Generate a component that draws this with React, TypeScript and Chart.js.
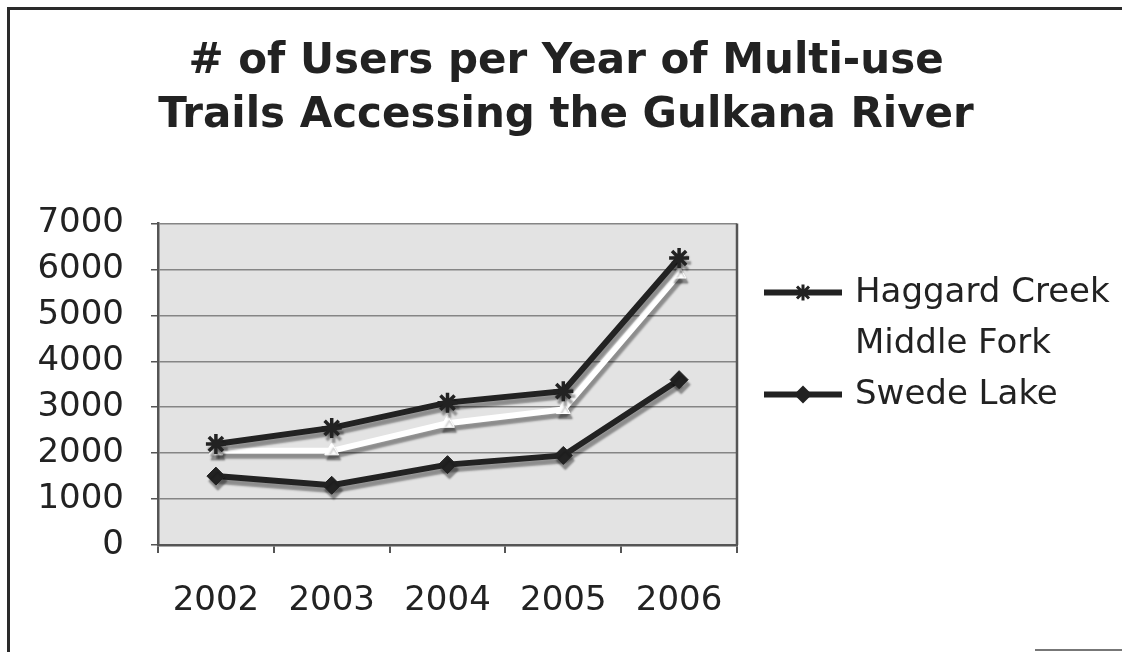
import React, { useEffect, useRef } from "react";
import { Chart, registerables } from "chart.js";

Chart.register(...registerables);

// Trail usage counts per year
const years = ["2002", "2003", "2004", "2005", "2006"];
const haggardCreek = [2200, 2550, 3100, 3350, 6250];
const middleFork = [2050, 2050, 2650, 2950, 5900];
const swedeLake = [1500, 1300, 1750, 1950, 3600];
const seriesNames = ["Haggard Creek", "Middle Fork", "Swede Lake"];
const titleLines = ["# of Users per Year of Multi-use", "Trails Accessing the Gulkana River"];
const yMin = 0;
const yMax = 7000;
const yStep = 1000;

const INK = "#222222";
const FONT = "'DejaVu Sans', Verdana, sans-serif";

// Gray plot background plus the right-hand frame line of the plot area
const plotBackground = {
  id: "plotBackground",
  beforeDraw(chart: any) {
    const { ctx, chartArea: a } = chart;
    ctx.save();
    ctx.fillStyle = "#e3e3e3";
    ctx.fillRect(a.left, a.top, a.right - a.left, a.bottom - a.top);
    ctx.restore();
  },
  beforeDatasetsDraw(chart: any) {
    const { ctx, chartArea: a } = chart;
    ctx.save();
    ctx.strokeStyle = "#555";
    ctx.lineWidth = 2.5;
    ctx.beginPath();
    ctx.moveTo(a.right, a.top);
    ctx.lineTo(a.right, a.bottom);
    ctx.stroke();
    ctx.restore();
  },
};

// Soft drop shadow under every series
const seriesShadow = {
  id: "seriesShadow",
  beforeDatasetDraw(chart: any) {
    const ctx = chart.ctx;
    ctx.save();
    ctx.shadowColor = "rgba(0,0,0,0.38)";
    ctx.shadowOffsetX = 2;
    ctx.shadowOffsetY = 5;
    ctx.shadowBlur = 2;
  },
  afterDatasetDraw(chart: any) {
    chart.ctx.restore();
  },
};

function drawStar(ctx: CanvasRenderingContext2D, x: number, y: number, r: number) {
  ctx.beginPath();
  ctx.moveTo(x - r * 0.75, y - r * 0.75);
  ctx.lineTo(x + r * 0.75, y + r * 0.75);
  ctx.moveTo(x + r * 0.75, y - r * 0.75);
  ctx.lineTo(x - r * 0.75, y + r * 0.75);
  ctx.moveTo(x, y - r);
  ctx.lineTo(x, y + r);
  ctx.stroke();
}

function drawDiamond(ctx: CanvasRenderingContext2D, x: number, y: number, r: number) {
  ctx.beginPath();
  ctx.moveTo(x, y - r);
  ctx.lineTo(x + r, y);
  ctx.lineTo(x, y + r);
  ctx.lineTo(x - r, y);
  ctx.closePath();
  ctx.fill();
}

// Legend to the right of the plot: line sample with marker, then the name
const sideLegend = {
  id: "sideLegend",
  afterDraw(chart: any) {
    const { ctx, chartArea: a } = chart;
    const x0 = a.right + 27;
    const x1 = a.right + 105;
    const xm = (x0 + x1) / 2;
    const xt = a.right + 118;
    const rowY = [a.top + 69, a.top + 120, a.top + 171];
    const colors = [INK, "#ffffff", INK];
    ctx.save();
    ctx.font = `34px ${FONT}`;
    ctx.textBaseline = "middle";
    ctx.textAlign = "left";
    seriesNames.forEach((name, i) => {
      const y = rowY[i];
      ctx.strokeStyle = colors[i];
      ctx.fillStyle = colors[i];
      ctx.lineWidth = 6;
      ctx.beginPath();
      ctx.moveTo(x0, y);
      ctx.lineTo(x1, y);
      ctx.stroke();
      if (i === 0) {
        ctx.lineWidth = 3;
        drawStar(ctx, xm, y, 8);
      } else if (i === 2) {
        drawDiamond(ctx, xm, y, 9);
      }
      ctx.fillStyle = INK;
      ctx.fillText(name, xt, y + 1);
    });
    ctx.restore();
  },
};

export default function App() {
  const canvasRef = useRef<HTMLCanvasElement | null>(null);

  useEffect(() => {
    if (!canvasRef.current) return;
    const chart = new Chart(canvasRef.current, {
      type: "line",
      data: {
        labels: years,
        datasets: [
          {
            label: seriesNames[0],
            data: haggardCreek,
            borderColor: INK,
            backgroundColor: INK,
            borderWidth: 6,
            pointStyle: "star",
            pointRadius: 10,
            pointBorderWidth: 3.5,
            pointBorderColor: INK,
            tension: 0,
          },
          {
            label: seriesNames[1],
            data: middleFork,
            borderColor: "#ffffff",
            backgroundColor: "#ffffff",
            borderWidth: 6,
            pointStyle: "triangle",
            pointRadius: 8,
            pointBorderWidth: 1,
            pointBorderColor: "#ffffff",
            tension: 0,
          },
          {
            label: seriesNames[2],
            data: swedeLake,
            borderColor: INK,
            backgroundColor: INK,
            borderWidth: 6,
            pointStyle: "rectRot",
            pointRadius: 9,
            pointBorderWidth: 1,
            pointBorderColor: INK,
            tension: 0,
          },
        ],
      },
      options: {
        animation: false,
        responsive: true,
        maintainAspectRatio: false,
        layout: { padding: { left: 10, right: 0, top: 0, bottom: 0 } },
        plugins: {
          legend: { display: false },
          tooltip: { enabled: false },
          title: {
            display: true,
            text: titleLines,
            color: INK,
            font: { family: FONT, size: 42, weight: "bold", lineHeight: 1.28 },
            padding: { top: 35, bottom: 81 },
          },
        },
        scales: {
          x: {
            type: "category",
            offset: true,
            grid: {
              offset: true,
              drawOnChartArea: false,
              drawTicks: true,
              tickLength: 8,
              tickColor: "#555",
              lineWidth: 2,
            },
            border: { display: true, color: "#555", width: 2.5 },
            ticks: {
              color: INK,
              font: { family: FONT, size: 34 },
              padding: 28,
              maxRotation: 0,
              autoSkip: false,
            },
            afterFit(scale: any) {
              scale.height = 107;
            },
          },
          y: {
            min: yMin,
            max: yMax,
            grid: {
              color: "#858585",
              lineWidth: 1.5,
              drawTicks: true,
              tickLength: 7,
              tickColor: "#555",
            },
            border: { display: true, color: "#555", width: 2.5 },
            ticks: {
              stepSize: yStep,
              color: INK,
              font: { family: FONT, size: 34 },
              padding: 27,
              callback: (v: any) => String(v),
            },
            afterFit(scale: any) {
              scale.width = 148;
            },
          },
          // Blank right-hand axis that keeps room for the legend column
          legendSpace: {
            type: "linear",
            position: "right",
            min: yMin,
            max: yMax,
            grid: { display: false, drawOnChartArea: false },
            border: { display: false },
            ticks: { display: false },
            afterFit(scale: any) {
              scale.width = 385;
            },
          },
        },
      },
      plugins: [plotBackground, seriesShadow, sideLegend],
    });
    return () => chart.destroy();
  }, []);

  return (
    <div style={{ position: "absolute", left: 0, top: 0, width: 1122, height: 652, background: "#ffffff", overflow: "hidden" }}>
      <div
        style={{
          position: "absolute",
          left: 7,
          top: 7,
          width: 1130,
          height: 660,
          borderTop: "3px solid #2a2a2a",
          borderLeft: "3px solid #2a2a2a",
        }}
      />
      <div style={{ position: "absolute", left: 1035, top: 649, width: 87, height: 2, background: "#777" }} />
      <div style={{ position: "absolute", left: 0, top: 0, width: 1122, height: 652 }}>
        <canvas ref={canvasRef} />
      </div>
    </div>
  );
}
